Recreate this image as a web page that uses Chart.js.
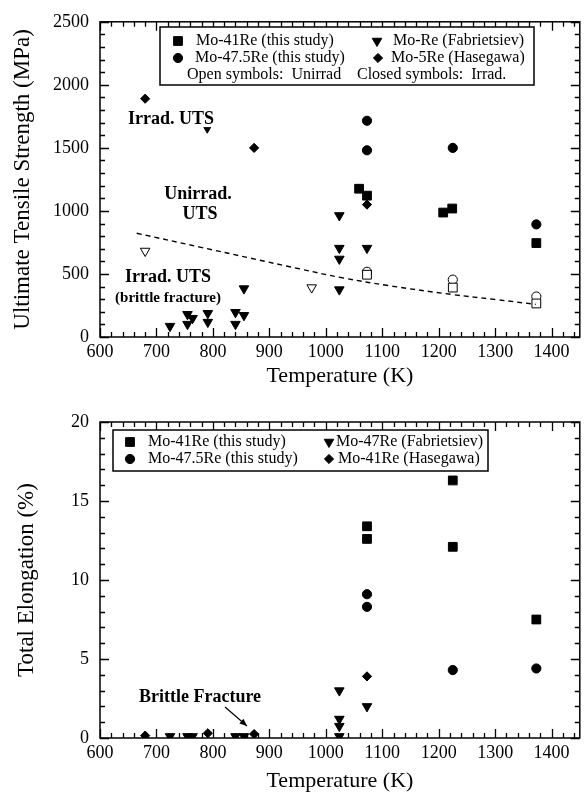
<!DOCTYPE html>
<html>
<head>
<meta charset="utf-8">
<script src="https://cdn.jsdelivr.net/npm/chart.js@4.4.1/dist/chart.umd.min.js"></script>
<style>
  html, body { margin: 0; padding: 0; background: #fff; }
  .panel { position: absolute; left: 0; width: 587px; height: 398px; }
</style>
</head>
<body>
<div class="panel" style="top:0"><canvas id="utsChart" width="587" height="398"></canvas></div>
<div class="panel" style="top:398px"><canvas id="elongChart" width="587" height="398"></canvas></div>
<script>
// ─── DATA ───────────────────────────────────────────────────────
const xTickLabels = [600, 700, 800, 900, 1000, 1100, 1200, 1300, 1400];
const utsTickLabels = [0, 500, 1000, 1500, 2000, 2500];
const elongTickLabels = [0, 5, 10, 15, 20];

// Ultimate tensile strength (MPa) vs temperature (K)
const utsMo41Irrad = [{x:1059,y:1176},{x:1073,y:1121},{x:1208,y:987},{x:1224,y:1019},{x:1373,y:745}];
const utsMo41Unirrad = [{x:1073,y:494},{x:1225,y:392},{x:1373,y:266}];
const utsMo475Irrad = [{x:1073,y:1715},{x:1073,y:1481},{x:1225,y:1500},{x:1373,y:893}];
const utsMo475Unirrad = [{x:1073,y:517},{x:1225,y:455},{x:1373,y:321}];
const utsFabIrrad = [
  {x:724,y:86},{x:755,y:180},{x:755,y:102},{x:764,y:149},{x:791,y:188},{x:791,y:118},
  {x:840,y:196},{x:840,y:102},{x:855,y:172},{x:855,y:384},{x:790,y:1660},
  {x:1024,y:964},{x:1024,y:705},{x:1024,y:619},{x:1024,y:376},{x:1073,y:705}
];
const utsFabUnirrad = [{x:680,y:682},{x:975,y:392}];
const utsHasIrrad = [{x:680,y:1890},{x:873,y:1500},{x:1073,y:1050}];
const utsTrend = [{x:665,y:823},{x:777,y:713},{x:865,y:627},{x:953,y:541},{x:1029,y:470},
  {x:1112,y:407},{x:1224,y:337},{x:1301,y:297},{x:1372,y:259}];

// Total elongation (%) vs temperature (K)
const elMo41 = [{x:1073,y:13.4},{x:1073,y:12.6},{x:1225,y:16.3},{x:1225,y:12.1},{x:1373,y:7.5}];
const elMo475 = [{x:1073,y:9.1},{x:1073,y:8.3},{x:1225,y:4.3},{x:1373,y:4.4}];
const elFab = [
  {x:724,y:0.1},{x:755,y:0.1},{x:764,y:0.1},{x:840,y:0.1},{x:855,y:0.1},
  {x:1024,y:3.0},{x:1024,y:1.2},{x:1024,y:0.75},{x:1024,y:0.1},{x:1073,y:2.0}
];
const elHas = [{x:680,y:0.15},{x:791,y:0.3},{x:873,y:0.25},{x:1073,y:3.9}];

// ─── STYLE ──────────────────────────────────────────────────────
const SERIF = "'Liberation Serif', 'Times New Roman', serif";
const MARK = {
  square:   { pointStyle: 'rect', pointRadius: 6.2 },
  circle:   { pointStyle: 'circle', pointRadius: 4.6 },
  tri:      { pointStyle: 'triangle', pointRadius: 5.5, rotation: 180 },
  diamond:  { pointStyle: 'rectRot', pointRadius: 4.6 },
};

function series(data, mark, open) {
  const m = MARK[mark];
  return {
    data,
    pointStyle: m.pointStyle,
    pointRadius: m.pointRadius,
    rotation: m.rotation || 0,
    backgroundColor: open ? '#fff' : '#000',
    borderColor: '#000',
    borderWidth: 1,
    pointHoverRadius: m.pointRadius,
  };
}

function drawMarker(ctx, mark, x, y, open) {
  const m = MARK[mark];
  ctx.save();
  ctx.fillStyle = open ? '#fff' : '#000';
  ctx.strokeStyle = '#000';
  ctx.lineWidth = 1;
  Chart.helpers.drawPoint(ctx, { pointStyle: m.pointStyle, radius: m.pointRadius, rotation: m.rotation || 0, borderWidth: 1 }, x, y);
  ctx.restore();
}

// frame box + inward major/minor ticks on all four sides
function frameTicks(xMinor, xMajor, yMinor, yMajor) {
  return {
    id: 'frameTicks',
    afterDraw(chart) {
      const { ctx, chartArea: a, scales: { x, y } } = chart;
      ctx.save();
      ctx.strokeStyle = '#000';
      ctx.lineWidth = 1.5;
      ctx.strokeRect(a.left, a.top, a.right - a.left, a.bottom - a.top);
      ctx.lineWidth = 1.3;
      ctx.beginPath();
      for (let v = x.min; v <= x.max + 1e-6; v += xMinor) {
        const px = Math.round(x.getPixelForValue(v)) + 0.5;
        const len = Math.abs(v % xMajor) < 1e-6 ? 9 : 5;
        ctx.moveTo(px, a.bottom); ctx.lineTo(px, a.bottom - len);
        ctx.moveTo(px, a.top); ctx.lineTo(px, a.top + len);
      }
      for (let v = y.min; v <= y.max + 1e-6; v += yMinor) {
        const py = Math.round(y.getPixelForValue(v)) + 0.5;
        const len = Math.abs(v % yMajor) < 1e-6 ? 9 : 5;
        ctx.moveTo(a.left, py); ctx.lineTo(a.left + len, py);
        ctx.moveTo(a.right, py); ctx.lineTo(a.right - len, py);
      }
      ctx.stroke();
      ctx.restore();
    },
  };
}

// legend box and text notes
const notes = {
  id: 'notes',
  afterDraw(chart, args, o) {
    const ctx = chart.ctx;
    ctx.save();
    const b = o.box;
    ctx.fillStyle = '#fff';
    ctx.fillRect(b.x, b.y, b.w, b.h);
    ctx.strokeStyle = '#000';
    ctx.lineWidth = 1.5;
    ctx.strokeRect(b.x, b.y, b.w, b.h);
    ctx.textBaseline = 'middle';
    ctx.textAlign = 'left';
    ctx.font = '16px ' + SERIF;
    for (const it of o.items) {
      if (it.mark) drawMarker(ctx, it.mark, it.mx, it.y, false);
      ctx.fillStyle = '#000';
      ctx.fillText(it.text, it.tx, it.y);
    }
    for (const t of o.texts) {
      ctx.font = 'bold ' + t.size + 'px ' + SERIF;
      ctx.textAlign = 'center';
      if (t.clear) {
        const w = ctx.measureText(t.text).width;
        ctx.fillStyle = '#fff';
        ctx.fillRect(t.x - w / 2 - 2, t.y - t.size * 0.5, w + 4, t.size * 0.95);
      }
      ctx.fillStyle = '#000';
      ctx.fillText(t.text, t.x, t.y);
    }
    if (o.arrow) {
      const [x1, y1, x2, y2] = o.arrow;
      const ang = Math.atan2(y2 - y1, x2 - x1);
      ctx.strokeStyle = '#000';
      ctx.lineWidth = 1.2;
      ctx.beginPath();
      ctx.moveTo(x1, y1); ctx.lineTo(x2, y2);
      ctx.stroke();
      ctx.fillStyle = '#000';
      ctx.beginPath();
      ctx.moveTo(x2, y2);
      ctx.lineTo(x2 - 8 * Math.cos(ang - 0.4), y2 - 8 * Math.sin(ang - 0.4));
      ctx.lineTo(x2 - 8 * Math.cos(ang + 0.4), y2 - 8 * Math.sin(ang + 0.4));
      ctx.closePath();
      ctx.fill();
    }
    ctx.restore();
  },
};

function scaleOptions(cfg) {
  return {
    x: {
      type: 'linear', min: 600, max: 1450,
      afterBuildTicks: (s) => { s.ticks = xTickLabels.map((v) => ({ value: v })); },
      afterFit: (s) => { s.height = cfg.xHeight; },
      grid: { display: false, drawTicks: false },
      border: { display: false },
      ticks: { color: '#000', font: { family: SERIF, size: 18 }, padding: 4, maxRotation: 0, autoSkip: false, callback: (v) => String(v) },
      title: { display: true, text: 'Temperature (K)', color: '#000', font: { family: SERIF, size: 22 }, padding: { top: 0, bottom: cfg.xTitlePad } },
    },
    y: {
      type: 'linear', min: 0, max: cfg.yMax,
      afterBuildTicks: (s) => { s.ticks = cfg.yTicks.map((v) => ({ value: v })); },
      afterFit: (s) => { s.width = 100; },
      grid: { display: false, drawTicks: false },
      border: { display: false },
      ticks: { color: '#000', font: { family: SERIF, size: 18 }, padding: 11, callback: (v) => String(v) },
      title: { display: true, text: cfg.yTitle, color: '#000', font: { family: SERIF, size: 23 }, padding: { top: cfg.yTitlePad, bottom: 0 } },
    },
  };
}

// ─── UTS PANEL ──────────────────────────────────────────────────
new Chart(document.getElementById('utsChart'), {
  type: 'scatter',
  data: {
    datasets: [
      { type: 'line', data: utsTrend, borderColor: '#000', borderWidth: 1.4, borderDash: [5, 4], tension: 0.4, pointRadius: 0, fill: false },
      series(utsMo41Unirrad, 'square', true),
      series(utsMo475Unirrad, 'circle', true),
      series(utsFabUnirrad, 'tri', true),
      series(utsMo41Irrad, 'square', false),
      series(utsMo475Irrad, 'circle', false),
      series(utsFabIrrad, 'tri', false),
      series(utsHasIrrad, 'diamond', false),
    ],
  },
  options: {
    responsive: false,
    animation: false,
    layout: { padding: { top: 17, right: 7, left: 0, bottom: 0 } },
    plugins: {
      legend: { display: false },
      tooltip: { enabled: false },
      notes: {
        box: { x: 160, y: 27, w: 374, h: 58 },
        items: [
          { mark: 'square', mx: 178, tx: 196, y: 41, text: 'Mo-41Re (this study)' },
          { mark: 'circle', mx: 178, tx: 195, y: 58, text: 'Mo-47.5Re (this study)' },
          { mark: 'tri', mx: 377, tx: 393, y: 41, text: 'Mo-Re (Fabrietsiev)' },
          { mark: 'diamond', mx: 378, tx: 391, y: 58, text: 'Mo-5Re (Hasegawa)' },
          { tx: 187, y: 75, text: 'Open symbols:  Unirrad' },
          { tx: 357, y: 75, text: 'Closed symbols:  Irrad.' },
        ],
        texts: [
          { text: 'Irrad. UTS', x: 171, y: 119, size: 18, clear: true },
          { text: 'Unirrad.', x: 198, y: 194, size: 18 },
          { text: 'UTS', x: 200, y: 214, size: 18 },
          { text: 'Irrad. UTS', x: 168, y: 277, size: 18 },
          { text: '(brittle fracture)', x: 168, y: 298, size: 15 },
        ],
      },
    },
    scales: scaleOptions({ xHeight: 61, xTitlePad: 9, yTitlePad: 9, yMax: 2500, yTicks: utsTickLabels, yTitle: 'Ultimate Tensile Strength (MPa)' }),
  },
  plugins: [frameTicks(20, 100, 100, 500), notes],
});

// ─── ELONGATION PANEL ───────────────────────────────────────────
new Chart(document.getElementById('elongChart'), {
  type: 'scatter',
  data: {
    datasets: [
      series(elMo41, 'square', false),
      series(elMo475, 'circle', false),
      series(elFab, 'tri', false),
      series(elHas, 'diamond', false),
    ],
  },
  options: {
    responsive: false,
    animation: false,
    layout: { padding: { top: 24, right: 7, left: 0, bottom: 0 } },
    plugins: {
      legend: { display: false },
      tooltip: { enabled: false },
      notes: {
        box: { x: 113, y: 32, w: 375, h: 41 },
        items: [
          { mark: 'square', mx: 130, tx: 148, y: 44, text: 'Mo-41Re (this study)' },
          { mark: 'circle', mx: 130, tx: 148, y: 61, text: 'Mo-47.5Re (this study)' },
          { mark: 'tri', mx: 329, tx: 336, y: 44, text: 'Mo-47Re (Fabrietsiev)' },
          { mark: 'diamond', mx: 329, tx: 338, y: 61, text: 'Mo-41Re (Hasegawa)' },
        ],
        texts: [
          { text: 'Brittle Fracture', x: 200, y: 299, size: 18 },
        ],
        arrow: [225, 309, 247, 328],
      },
    },
    scales: scaleOptions({ xHeight: 58, xTitlePad: 2, yTitlePad: 13, yMax: 20, yTicks: elongTickLabels, yTitle: 'Total Elongation (%)' }),
  },
  plugins: [frameTicks(20, 100, 1, 5), notes],
});
</script>
</body>
</html>
